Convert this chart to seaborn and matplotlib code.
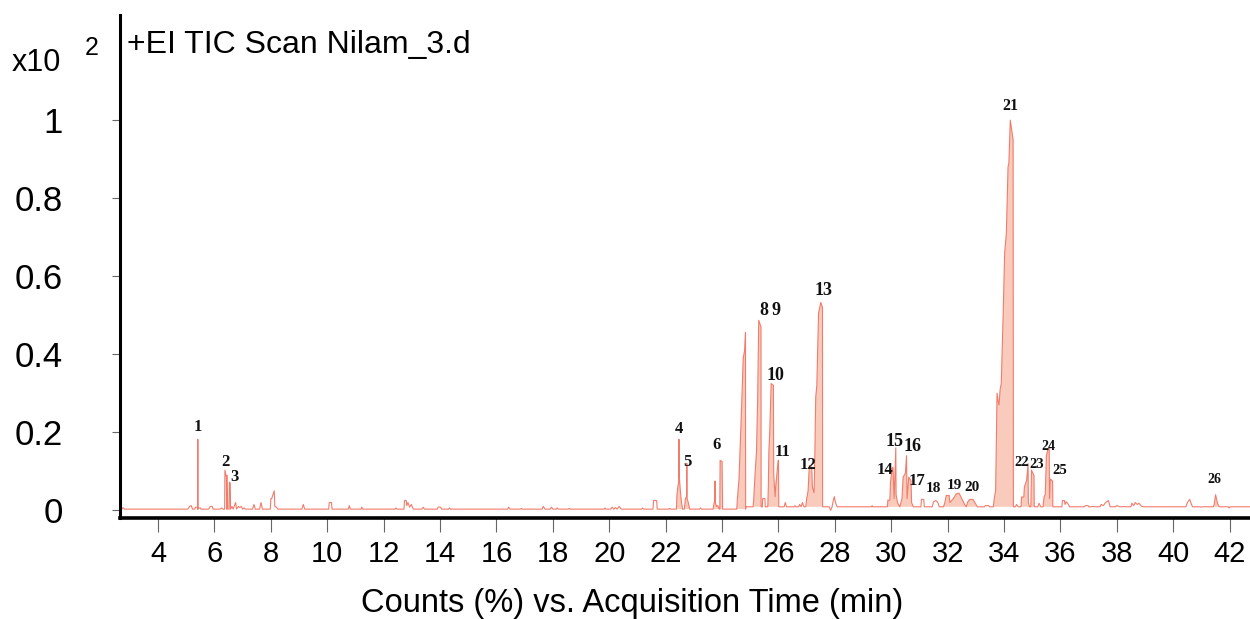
import numpy as np
import pandas as pd
import matplotlib
matplotlib.use('Agg')
import matplotlib.pyplot as plt
import seaborn as sns

# ==========================================
# DATA (counts x10^2)
# ==========================================
b0 = 0.003   # baseline before ~24.8 min
b1 = 0.009   # baseline after ~24.8 min

trace_points = [
    (2.65, b0), (2.72, b0), (2.74, 0.006), (2.78, 0.006), (2.80, b0),
    (5.05, b0), (5.12, 0.010), (5.18, 0.012), (5.22, b0),
    (5.30, b0), (5.33, 0.008), (5.39, 0.008), (5.40, b0), (5.41, 0.182), (5.42, b0),
    (5.45, 0.006), (5.50, 0.006), (5.52, b0),
    (5.80, b0), (5.85, 0.010), (5.92, 0.010), (5.95, b0),
    (6.20, b0), (6.25, 0.006), (6.30, b0),
    (6.36, b0), (6.37, 0.103), (6.42, 0.085), (6.43, b0), (6.45, 0.090), (6.47, b0),
    (6.52, b0), (6.53, 0.072), (6.56, 0.070), (6.57, b0),
    (6.62, 0.010), (6.66, b0), (6.75, 0.020), (6.78, b0), (6.85, 0.010), (6.90, 0.007),
    (6.95, 0.010), (7.00, b0), (7.05, 0.006), (7.10, b0),
    (7.35, b0), (7.40, 0.015), (7.45, b0), (7.60, b0), (7.65, 0.020), (7.70, b0),
    (7.98, b0), (8.00, 0.030), (8.03, 0.030), (8.05, 0.035), (8.12, 0.050),
    (8.14, 0.010), (8.20, 0.008), (8.25, b0),
    (9.10, b0), (9.15, 0.015), (9.20, b0),
    (10.05, b0), (10.07, 0.020), (10.15, 0.020), (10.17, b0),
    (10.75, b0), (10.78, 0.012), (10.82, b0),
    (11.20, b0), (11.22, 0.008), (11.26, b0),
    (12.40, b0), (12.43, 0.006), (12.47, b0),
    (12.72, b0), (12.74, 0.025), (12.80, 0.025), (12.82, 0.012), (12.86, 0.020),
    (12.92, 0.008), (12.98, 0.015), (13.05, b0),
    (13.35, b0), (13.40, 0.008), (13.45, b0),
    (13.90, b0), (13.93, 0.008), (14.02, 0.008), (14.05, b0),
    (14.30, b0), (14.33, 0.006), (14.37, b0),
    (16.40, b0), (16.43, 0.008), (16.48, b0),
    (16.85, b0), (16.88, 0.005), (16.92, b0),
    (17.62, b0), (17.66, 0.010), (17.72, b0), (17.90, b0), (17.95, 0.008), (18.00, b0),
    (18.12, b0), (18.15, 0.006), (18.19, b0),
    (18.55, b0), (18.58, 0.005), (18.62, b0),
    (19.82, b0), (19.85, 0.006), (19.88, b0),
    (20.05, b0), (20.10, 0.008), (20.16, b0), (20.22, 0.007), (20.28, b0),
    (20.35, 0.010), (20.42, b0),
    (21.15, b0), (21.18, 0.006), (21.22, b0),
    (21.55, b0), (21.57, 0.025), (21.68, 0.025), (21.70, b0),
    (22.10, b0), (22.13, 0.005), (22.17, b0),
    # peaks 4, 5
    (22.38, b0), (22.40, 0.040), (22.44, 0.065), (22.46, 0.070), (22.47, 0.182),
    (22.48, 0.090), (22.52, 0.050), (22.56, 0.020), (22.60, b0),
    (22.66, b0), (22.70, 0.030), (22.74, 0.035), (22.75, 0.120), (22.76, 0.030),
    (22.80, 0.020), (22.85, b0),
    (23.20, b0), (23.23, 0.006), (23.27, b0),
    # peak 6
    (23.68, b0), (23.72, 0.020), (23.74, 0.025), (23.75, 0.075), (23.76, 0.020),
    (23.80, 0.010), (23.85, 0.012), (23.90, b0), (23.92, b0), (23.93, 0.128),
    (24.00, 0.125), (24.02, b0),
    # peak 7 (unlabelled)
    (24.52, b0), (24.54, 0.026), (24.60, 0.080), (24.68, 0.240), (24.75, 0.390),
    (24.80, 0.410), (24.83, 0.456), (24.835, b0), (24.84, b1),
    # peaks 8, 9
    (25.10, b1), (25.12, 0.026), (25.17, 0.094), (25.22, 0.150), (25.26, 0.280),
    (25.30, 0.487), (25.38, 0.470), (25.385, b1),
    (25.43, b1), (25.44, 0.030), (25.52, 0.030), (25.53, b1),
    # peaks 10, 11
    (25.62, b1), (25.64, 0.060), (25.66, 0.154), (25.69, 0.200), (25.74, 0.325),
    (25.82, 0.320), (25.83, 0.094), (25.88, 0.035), (25.90, 0.060), (25.99, 0.128),
    (26.00, 0.128), (26.01, b1),
    (26.20, b1), (26.24, 0.020), (26.28, b1),
    (26.55, b1), (26.58, 0.012), (26.62, b1), (26.72, b1), (26.75, 0.015), (26.80, b1),
    (26.85, 0.020), (26.90, b1),
    # peaks 12, 13
    (26.97, b1), (27.00, 0.030), (27.05, 0.050), (27.08, 0.095), (27.10, 0.115),
    (27.18, 0.110), (27.20, 0.060), (27.26, 0.045),
    (27.28, 0.100), (27.32, 0.290), (27.36, 0.320), (27.42, 0.505), (27.50, 0.533),
    (27.56, 0.520), (27.565, b1),
    (27.80, b1), (27.85, 0.000), (27.90, b1), (27.93, 0.020), (27.98, 0.035),
    (28.02, 0.020), (28.08, b1),
    (29.30, b1), (29.32, 0.012), (29.34, b1),
    # peaks 14 - 17
    (29.86, b1), (29.88, 0.026), (29.95, 0.026), (29.97, 0.070), (30.03, 0.108),
    (30.06, 0.110), (30.10, 0.030), (30.12, 0.070), (30.16, 0.160), (30.17, 0.040),
    (30.22, 0.020), (30.30, b1), (30.38, 0.030), (30.42, 0.085), (30.50, 0.095),
    (30.54, 0.140), (30.56, 0.030), (30.62, 0.085), (30.70, 0.075), (30.72, 0.020),
    (30.78, b1),
    (31.05, b1), (31.07, 0.028), (31.15, 0.028), (31.17, b1),
    # peak 18
    (31.45, b1), (31.50, 0.022), (31.58, 0.025), (31.65, 0.020), (31.70, b1),
    # peaks 19, 20
    (31.85, b1), (31.90, 0.020), (31.95, 0.038), (32.05, 0.038), (32.08, 0.020),
    (32.20, 0.030), (32.30, 0.042), (32.40, 0.044), (32.50, 0.030), (32.60, 0.015),
    (32.66, b1), (32.70, 0.020), (32.78, 0.028), (32.90, 0.028), (32.98, 0.018),
    (33.05, b1),
    (33.30, b1), (33.33, 0.012), (33.45, 0.012), (33.48, b1),
    # peak 21
    (33.62, b1), (33.65, 0.030), (33.70, 0.050), (33.75, 0.300), (33.79, 0.280),
    (33.82, 0.270), (33.86, 0.310), (33.90, 0.325), (33.97, 0.510), (34.02, 0.660),
    (34.08, 0.710), (34.14, 0.880), (34.17, 0.890), (34.22, 1.000), (34.30, 0.960),
    (34.32, 0.950), (34.33, b1),
    (34.40, b1), (34.44, 0.015), (34.50, b1),
    # peaks 22 - 25
    (34.60, b1), (34.62, 0.034), (34.70, 0.034), (34.72, 0.060), (34.80, 0.077),
    (34.85, 0.120), (34.86, 0.020), (34.90, b1),
    (34.95, b1), (34.97, 0.103), (35.02, 0.095), (35.06, 0.090), (35.07, b1),
    (35.20, b1), (35.24, 0.018), (35.30, b1),
    (35.38, b1), (35.42, 0.035), (35.46, 0.040), (35.50, 0.140), (35.56, 0.158),
    (35.60, 0.158), (35.61, 0.030), (35.64, 0.080), (35.72, 0.075), (35.73, b1),
    (36.05, b1), (36.07, 0.025), (36.14, 0.025), (36.16, 0.015), (36.20, 0.022),
    (36.28, 0.015), (36.32, b1),
    (36.85, b1), (36.88, 0.012), (36.98, 0.012), (37.00, b1), (37.10, b1),
    (37.15, 0.010), (37.22, b1),
    (37.40, b1), (37.44, 0.015), (37.52, 0.012), (37.60, 0.020), (37.70, 0.025),
    (37.76, b1),
    (37.95, b1), (38.00, 0.012), (38.10, b1), (38.20, b1), (38.25, 0.010), (38.32, b1),
    (38.50, b1), (38.53, 0.018), (38.60, 0.012), (38.65, 0.020), (38.72, 0.015),
    (38.78, 0.018), (38.88, 0.010), (38.95, b1),
    (40.45, b1), (40.50, 0.020), (40.58, 0.028), (40.62, 0.020), (40.68, b1),
    (40.95, b1), (40.98, 0.008), (41.02, b1),
    # peak 26
    (41.42, b1), (41.45, 0.015), (41.50, 0.040), (41.56, 0.020), (41.60, 0.012),
    (41.64, b1),
    (41.95, b1), (41.98, 0.006), (42.02, b1),
    (42.72, b1),
]

# integrated (shaded) peak windows, min
shaded_windows = [(22.38, 22.86), (23.68, 24.03), (24.52, 24.84), (25.10, 25.39),
                  (25.62, 26.01), (26.97, 27.57), (29.86, 30.78), (31.85, 33.05),
                  (33.62, 34.33), (34.60, 35.07), (35.38, 35.73), (41.42, 41.64)]

# peak numbers and where they sit (min, counts x10^2)
peak_labels = ['1', '2', '3', '4', '5', '6', '8', '9', '10', '11', '12', '13', '14',
               '15', '16', '17', '18', '19', '20', '21', '22', '23', '24', '25', '26']
label_rt = [5.42, 6.38, 6.70, 22.47, 22.76, 23.79, 25.49, 25.91, 25.91, 26.13, 27.05,
            27.58, 29.78, 30.10, 30.74, 30.91, 31.48, 32.23, 32.87, 34.21, 34.64,
            35.17, 35.56, 35.99, 41.45]
label_y = [0.213, 0.123, 0.085, 0.208, 0.123, 0.167, 0.513, 0.513, 0.346, 0.149, 0.115,
           0.564, 0.103, 0.177, 0.164, 0.074, 0.056, 0.064, 0.059, 1.036, 0.123,
           0.118, 0.164, 0.103, 0.079]
label_size = [12, 12, 12, 12, 12, 12, 13, 13, 13, 12, 12, 13, 12,
              13, 13, 12, 11, 11, 11, 11.5, 10.5, 10.5, 10, 10.5, 10]

x_ticks = list(range(4, 43, 2))
y_ticks = [0, 0.2, 0.4, 0.6, 0.8, 1]
y_tick_labels = ['0', '0.2', '0.4', '0.6', '0.8', '1']

df = pd.DataFrame(trace_points, columns=['rt', 'counts'])

# ==========================================
# PLOT
# ==========================================
sns.set_style('white')
plt.rcParams['font.family'] = ['Liberation Sans', 'DejaVu Sans']
plt.rcParams['text.color'] = 'black'
plt.rcParams['xtick.labelcolor'] = 'black'
plt.rcParams['ytick.labelcolor'] = 'black'
plt.rcParams['axes.labelcolor'] = 'black'

line_col = '#f27c6c'
fill_col = '#f9c6b5'

fig = plt.figure(figsize=(12.5, 6.19), dpi=100)
ax = fig.add_axes([0.096, 0.163, 0.904, 0.813])

mask = np.zeros(len(df), dtype=bool)
for lo, hi in shaded_windows:
    mask |= (df['rt'] >= lo) & (df['rt'] <= hi)
base = np.where(df['rt'] < 24.84, b0, b1)
ax.fill_between(df['rt'], base, df['counts'], where=mask, color=fill_col,
                linewidth=0, alpha=0.9)

sns.lineplot(data=df, x='rt', y='counts', estimator=None, sort=False,
             color=line_col, linewidth=0.8, ax=ax)

for lab, t, yv, fs in zip(peak_labels, label_rt, label_y, label_size):
    ax.text(t, yv, lab, ha='center', va='center', fontsize=fs, fontweight='bold',
            family='Liberation Serif', color='#111111')

ax.set_xlim(2.65, 42.72)
ax.set_ylim(-0.02, 1.27)
ax.set_xticks(x_ticks)
ax.set_xticklabels([str(t) for t in x_ticks], fontsize=21)
ax.set_yticks(y_ticks)
ax.set_yticklabels(y_tick_labels, fontsize=25)
ax.tick_params(axis='x', direction='out', length=10, width=0.8, color='#666666',
               pad=6, bottom=True)
ax.tick_params(axis='y', direction='out', length=6, width=0.8, color='#666666',
               pad=35, left=True)

sns.despine(ax=ax, top=True, right=True)
ax.spines['left'].set_linewidth(2.2)
ax.spines['bottom'].set_linewidth(2.6)
ax.spines['left'].set_color('black')
ax.spines['bottom'].set_color('black')

ax.set_xlabel('Counts (%) vs. Acquisition Time (min)', fontsize=23.5, labelpad=14)
ax.xaxis.label.set_x(0.453)
ax.set_ylabel('')

fig.text(0.102, 0.927, '+EI TIC Scan Nilam_3.d', fontsize=23, ha='left', va='center')
fig.text(0.009, 0.899, 'x10', fontsize=22, ha='left', va='center')
fig.text(0.068, 0.922, '2', fontsize=18, ha='left', va='center')

fig.savefig('out.png', dpi=100)
